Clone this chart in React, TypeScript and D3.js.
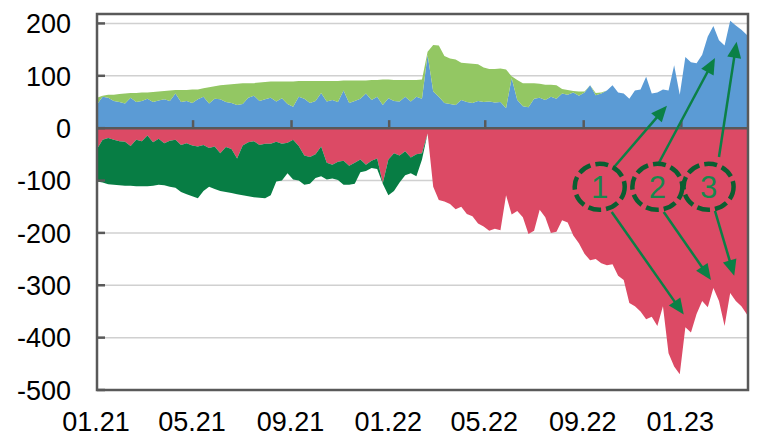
import React, { useEffect, useRef } from "react";
import * as d3 from "d3";

// weekly observations, starting 2021-01-01
const startDate = "2021-01-01";

// positive side: blue stack at the bottom, light green above it
const blueValues = [
  45, 60, 58, 52, 50, 47, 58, 50, 52, 56, 50, 53, 55, 52, 66, 50, 52, 48, 55, 60, 47, 56, 55, 50, 48, 44, 46, 58, 62, 52, 55,
  58, 51, 57, 46, 41, 60, 56, 48, 52, 67, 51, 54, 50, 72, 48, 52, 56, 66, 54, 60, 44, 57, 52, 51, 60, 51, 60, 56,
  140, 70, 60, 48, 46, 44, 54, 50, 48, 52, 50, 51, 49, 50, 38, 96, 54, 42, 40, 56, 58, 54, 60, 56, 66, 64, 68, 62, 68, 82, 63, 66,
  72, 82, 68, 66, 56, 72, 74, 98, 66, 68, 74, 72, 120, 64, 136, 126, 124, 140, 175, 195, 168, 158, 205, 196, 188, 178,
];
const lightGreenValues = [
  13, 2, 6, 12, 15, 19, 9, 17, 16, 12, 19, 17, 16, 20, 7, 23, 21, 26, 19, 16, 31, 24, 27, 33, 36, 41, 40, 28, 24, 35, 33,
  31, 38, 32, 43, 48, 30, 34, 42, 38, 23, 39, 36, 40, 19, 43, 39, 35, 25, 38, 32, 49, 36, 40, 41, 32, 41, 32, 37,
  6, 89, 98, 90, 87, 87, 71, 74, 75, 70, 66, 62, 64, 64, 74, 3, 38, 44, 46, 30, 27, 29, 23, 26, 9, 9, 3, 8, 2, 0, 4, 2,
  0, 0, 0, 0, 0, 0, 0, 0, 0, 0, 0, 0, 0, 0, 0, 0, 0, 0, 0, 0, 0, 0, 0, 0, 0, 0,
];

// negative side (magnitudes): red next to zero, dark green below it
const redValues = [
  40, 22, 19, 22, 25, 26, 34, 22, 25, 14, 27, 20, 29, 24, 22, 32, 29, 33, 35, 32, 38, 35, 48, 36, 40, 58, 33, 27, 25, 32, 30,
  30, 26, 30, 28, 22, 34, 52, 55, 50, 35, 66, 70, 64, 62, 72, 66, 60, 70, 62, 58, 105, 60, 48, 52, 44, 56, 50, 48,
  10, 112, 137, 140, 145, 155, 150, 164, 168, 182, 188, 196, 192, 195, 128, 165, 158, 170, 202, 196, 156, 170, 200, 198, 176, 180, 205, 220, 240, 252, 250, 258,
  262, 260, 282, 290, 334, 340, 350, 365, 360, 378, 340, 430, 455, 470, 380, 390, 355, 330, 342, 305, 330, 378, 315, 330, 340, 356,
];
const darkGreenValues = [
  62, 82, 88, 86, 84, 84, 76, 89, 86, 97, 83, 88, 80, 88, 92, 90, 97, 97, 99, 88, 74, 81, 72, 86, 84, 68, 95, 103, 107, 101, 104,
  98, 76, 70, 58, 76, 66, 56, 51, 45, 57, 32, 26, 35, 46, 36, 40, 24, 12, 14, 20, 1, 68, 72, 52, 46, 30, 42, 12,
  0, 0, 0, 0, 0, 0, 0, 0, 0, 0, 0, 0, 0, 0, 0, 0, 0, 0, 0, 0, 0, 0, 0, 0, 0, 0, 0, 0, 0, 0, 0, 0,
  0, 0, 0, 0, 0, 0, 0, 0, 0, 0, 0, 0, 0, 0, 0, 0, 0, 0, 0, 0, 0, 0, 0, 0, 0, 0,
];

const xTickLabels = ["01.21", "05.21", "09.21", "01.22", "05.22", "09.22", "01.23"];
const yTickValues = [200, 100, 0, -100, -200, -300, -400, -500];

// numbered markers and arrows, in data units
const markers = [
  { label: "1", date: "2022-09-21", value: -112 },
  { label: "2", date: "2022-12-02", value: -112 },
  { label: "3", date: "2023-02-04", value: -112 },
];
const arrows = [
  { from: ["2022-10-08", -76], to: ["2022-12-14", 43] },
  { from: ["2022-12-04", -66], to: ["2023-02-12", 134] },
  { from: ["2023-02-17", -55], to: ["2023-03-11", 165] },
  { from: ["2022-10-06", -160], to: ["2023-01-04", -356] },
  { from: ["2022-12-10", -160], to: ["2023-02-07", -290] },
  { from: ["2023-02-12", -158], to: ["2023-03-08", -282] },
];

const colors = {
  blue: "#5b9bd5",
  lightGreen: "#93c763",
  red: "#dc4a65",
  darkGreen: "#077d44",
  arrow: "#0b8046",
  ring: "#0a5e31",
  axis: "#595959",
  grid: "#d0d0d0",
};

const Chart: React.FC = () => {
  const ref = useRef<HTMLDivElement>(null);

  useEffect(() => {
    if (!ref.current) return;
    document.body.style.margin = "0";
    d3.select(ref.current).selectAll("svg").remove();

    const width = 775;
    const height = 437;
    const plot = { left: 97, right: 748, top: 14, bottom: 390 };
    const font = "'Liberation Sans', Arial, sans-serif";

    const parse = d3.timeParse("%Y-%m-%d");
    const parseTick = d3.timeParse("%m.%y");
    const start = parse(startDate) as Date;
    const dates = blueValues.map((_, i) => d3.timeDay.offset(start, 7 * i));

    const rows = dates.map((d, i) => ({
      date: d,
      blue: blueValues[i],
      green: lightGreenValues[i],
      red: redValues[i],
      dgreen: darkGreenValues[i],
    }));

    const x = d3.scaleTime()
      .domain([start, dates[dates.length - 1]])
      .range([plot.left, plot.right - 1]);
    const y = d3.scaleLinear().domain([-500, 218]).range([plot.bottom, plot.top]);

    const svg = d3.select(ref.current)
      .append("svg")
      .attr("width", width)
      .attr("height", height)
      .style("display", "block")
      .style("background", "#fff");

    // gridlines
    svg.append("g")
      .selectAll("line")
      .data(yTickValues.filter(v => v !== 0 && v !== -500))
      .join("line")
      .attr("x1", plot.left)
      .attr("x2", plot.right)
      .attr("y1", d => y(d))
      .attr("y2", d => y(d))
      .attr("stroke", colors.grid)
      .attr("stroke-width", 1.5);

    // stacked areas
    type Row = typeof rows[number];
    const layers: { color: string; y0: (r: Row) => number; y1: (r: Row) => number }[] = [
      { color: colors.blue, y0: () => 0, y1: r => r.blue },
      { color: colors.lightGreen, y0: r => r.blue, y1: r => r.blue + r.green },
      { color: colors.red, y0: () => 0, y1: r => -r.red },
      { color: colors.darkGreen, y0: r => -r.red, y1: r => -(r.red + r.dgreen) },
    ];
    layers.forEach(layer => {
      const area = d3.area<Row>()
        .x(r => x(r.date))
        .y0(r => y(layer.y0(r)))
        .y1(r => y(layer.y1(r)));
      svg.append("path").datum(rows).attr("d", area).attr("fill", layer.color);
    });

    // zero line + x ticks sitting on it
    svg.append("line")
      .attr("x1", plot.left).attr("x2", plot.right)
      .attr("y1", y(0)).attr("y2", y(0))
      .attr("stroke", colors.axis).attr("stroke-width", 2.5);

    const xTicks = xTickLabels.map(l => ({ label: l, date: parseTick(l) as Date }));
    svg.append("g")
      .selectAll("line")
      .data(xTicks.slice(1))
      .join("line")
      .attr("x1", d => x(d.date)).attr("x2", d => x(d.date))
      .attr("y1", y(0)).attr("y2", y(0) - 8)
      .attr("stroke", colors.axis).attr("stroke-width", 2.5);

    // frame
    svg.append("rect")
      .attr("x", plot.left).attr("y", plot.top)
      .attr("width", plot.right - plot.left).attr("height", plot.bottom - plot.top)
      .attr("fill", "none").attr("stroke", colors.axis).attr("stroke-width", 2.5);

    // y ticks and labels
    svg.append("g")
      .selectAll("line")
      .data(yTickValues)
      .join("line")
      .attr("x1", plot.left).attr("x2", plot.left + 8)
      .attr("y1", d => y(d)).attr("y2", d => y(d))
      .attr("stroke", colors.axis).attr("stroke-width", 2.5);
    svg.append("g")
      .selectAll("text")
      .data(yTickValues)
      .join("text")
      .attr("x", 71)
      .attr("y", d => y(d))
      .attr("dy", "0.36em")
      .attr("text-anchor", "end")
      .style("font-family", font)
      .style("font-size", "27px")
      .text(d => d);

    // x labels
    svg.append("g")
      .selectAll("text")
      .data(xTicks)
      .join("text")
      .attr("x", d => x(d.date) - 1)
      .attr("y", 431)
      .attr("text-anchor", "middle")
      .style("font-family", font)
      .style("font-size", "27px")
      .text(d => d.label);

    // arrows
    const g = svg.append("g");
    arrows.forEach(a => {
      const x1 = x(parse(a.from[0] as string) as Date), y1 = y(a.from[1] as number);
      const x2 = x(parse(a.to[0] as string) as Date), y2 = y(a.to[1] as number);
      const len = Math.hypot(x2 - x1, y2 - y1);
      const ux = (x2 - x1) / len, uy = (y2 - y1) / len;
      const headL = 16, headW = 14;
      g.append("line")
        .attr("x1", x1).attr("y1", y1)
        .attr("x2", x2 - ux * headL * 0.8).attr("y2", y2 - uy * headL * 0.8)
        .attr("stroke", colors.arrow).attr("stroke-width", 2.5);
      const bx = x2 - ux * headL, by = y2 - uy * headL;
      g.append("polygon")
        .attr("points", [
          [x2, y2],
          [bx - uy * headW / 2, by + ux * headW / 2],
          [bx + uy * headW / 2, by - ux * headW / 2],
        ].map(p => p.join(",")).join(" "))
        .attr("fill", colors.arrow);
    });

    // dashed rings with numbers
    markers.forEach(m => {
      const cx = x(parse(m.date) as Date), cy = y(m.value);
      g.append("ellipse")
        .attr("cx", cx).attr("cy", cy)
        .attr("rx", 25).attr("ry", 23)
        .attr("fill", "none")
        .attr("stroke", colors.ring)
        .attr("stroke-width", 4.5)
        .attr("stroke-dasharray", "13 5");
      g.append("text")
        .attr("x", cx).attr("y", cy)
        .attr("dy", "0.36em")
        .attr("text-anchor", "middle")
        .attr("fill", "#17884d")
        .style("font-family", font)
        .style("font-size", "31px")
        .text(m.label);
    });
  }, []);

  return <div ref={ref} />;
};

export default function App() {
  return <Chart />;
}
